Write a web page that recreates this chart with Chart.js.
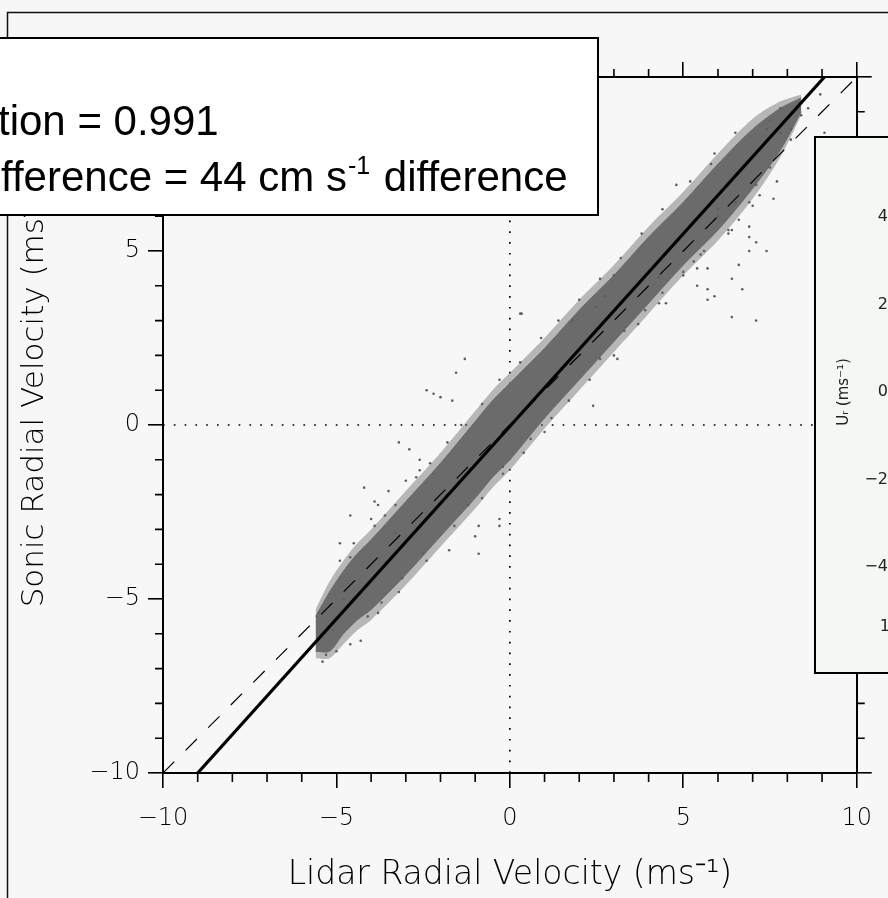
<!DOCTYPE html>
<html>
<head>
<meta charset="utf-8">
<script src="https://cdn.jsdelivr.net/npm/chart.js@4.4.1/dist/chart.umd.min.js"></script>
<style>
  html, body { margin:0; padding:0; background:#f7f7f7; overflow:hidden; }
  #wrap { position:relative; width:888px; height:898px; overflow:hidden; }
  #main { position:absolute; left:0; top:0; }
  #insetBox { position:absolute; left:813px; top:136px; width:75px; height:538px; overflow:hidden; }
  #inset { position:absolute; left:0; top:0; }
</style>
</head>
<body>
<div id="wrap">
  <canvas id="main" width="888" height="898"></canvas>
  <div id="insetBox"><canvas id="inset" width="220" height="538"></canvas></div>
</div>
<script>
// ---------------- data ----------------
const xTicks = [-10, -5, 0, 5, 10];
const yTicks = [-10, -5, 0, 5, 10];
const minorTicks = [-9,-8,-7,-6,-4,-3,-2,-1,1,2,3,4,6,7,8,9];

// dense core of the scatter cloud: lidar velocity and sonic upper/lower edges
const bandX     = [-5.6, -5.2, -4.8, -4.4, -4.0, -3.0, -2.0, -1.0, -0.5, 0.0, 0.5, 1.0, 2.0, 3.0, 4.0, 5.0, 6.0, 7.0, 7.8, 8.4];
const bandUpper = [-5.5, -4.8, -4.2, -3.7, -3.3, -2.2, -1.1,  0.1,  0.7, 1.2, 1.7, 2.2, 3.3, 4.3, 5.4, 6.4, 7.5, 8.5, 9.1, 9.4];
const bandLower = [-6.5, -6.5, -6.0, -5.6, -5.3, -4.3, -3.2, -2.1, -1.5,-1.0,-0.4, 0.2, 1.3, 2.4, 3.5, 4.6, 5.6, 6.8, 7.9, 9.0];
// sparser outer fringe of the cloud
const haloUpper = [-5.3, -4.5, -3.9, -3.4, -3.0, -1.9, -0.8,  0.4,  1.0, 1.5, 2.0, 2.5, 3.6, 4.6, 5.7, 6.7, 7.8, 8.8, 9.3, 9.5];
const haloLower = [-6.7, -6.7, -6.3, -5.9, -5.6, -4.6, -3.5, -2.4, -1.8,-1.3,-0.7,-0.1, 1.0, 2.1, 3.2, 4.3, 5.3, 6.5, 7.7, 8.9];

// scattered individual points (lidar, sonic)
const scatterX = [-5.3,-5.1,-5.5,-4.8,-4.3,-4.9,-4.5,-4.0,-3.8,-3.5,-3.0,-2.6,
  -2.4,-2.2,-2.0,-1.66,-1.3,-1.55,0.3,2.4,
  -3.2,-2.9,-2.6,-2.2,-4.2,-3.9,-3.6,-3.3,-4.9,-4.6,
  -0.9,-0.3,-1.0,-0.9,-0.3,-1.75,
  7.1,5.7,6.6,7.1,6.0,6.4,5.3,5.4,6.7,7.4,7.6,7.0,7.1,3.1,
  4.8,5.8,5.7,5.9,6.4,6.9,6.9,6.0,6.5,6.6,6.9,6.4,0.34,3.0,2.75,2.5,1.8,4.5,4.3,5.4,5.7,
  8.95,9.07,8.6,7.8,8.4,8.1,8.1,7.5,7.8,7.4,
  -4.6,-3.9,-3.3,-2.7,-2.3,-1.8,-1.4,-0.8,-0.3,0.3,0.9,1.4,2.0,2.6,3.2,3.8,4.4,5.2,5.9,6.5,
  -5.4,-4.6,-3.8,-3.2,-2.4,-1.6,-0.8,-0.2,0.4,1.0,1.7,2.3,3.0,3.7,4.3,5.0,5.6,6.3,6.9,7.5,
  -5.0,-4.1,-3.7,-3.1,-2.5,-1.2,-0.2,0.6,1.2,2.6,3.3,3.9,4.4,5.0,5.5,6.3,7.2,7.7];
const scatterY = [-6.6,-5.9,-5.4,-5.0,-6.2,-3.9,-3.4,-2.7,-2.3,-1.9,-1.6,-1.3,
  1.0,0.9,0.8,0.7,1.9,1.5,3.2,0.55,
  -0.5,-0.7,-1.0,-1.4,-1.8,-2.2,-2.6,-3.1,-3.4,-2.6,
  -2.9,-2.9,-3.2,-3.7,-2.7,-3.6,
  3.0,3.6,4.6,5.25,6.0,5.6,4.7,4.0,3.9,5.0,6.5,6.3,6.9,1.9,
  6.9,7.5,4.5,3.7,4.2,5.0,5.4,6.2,6.4,5.9,5.7,3.1,3.2,4.3,3.7,3.4,3.0,3.5,4.25,4.5,3.9,
  9.5,8.4,9.1,9.1,8.9,8.5,8.2,8.75,8.4,8.5,
  -3.8,-2.9,-2.3,-1.5,-1.1,-0.5,0.0,0.6,1.3,1.8,2.5,3.0,3.6,4.2,4.8,5.5,6.2,7.0,7.8,8.4,
  -6.8,-6.3,-5.4,-4.8,-3.9,-2.9,-2.1,-1.4,-0.8,-0.2,0.7,1.3,2.0,2.9,3.5,4.3,5.0,5.6,6.4,7.4,
  -6.5,-5.5,-5.1,-4.4,-3.7,-2.3,-1.2,-0.4,0.2,1.9,2.7,3.3,3.8,4.4,4.9,5.5,6.6,7.0];

// fitted regression line end points and the 1:1 reference line
const fitX = [-9.0, 9.07];
const fitY = [-10, 10];
const oneToOneX = [-10, 10];
const oneToOneY = [-10, 10];

// inset (partly visible panel) tick labels
const insetTicks = [4, 2, 0, -2, -4];

// text
const xTitle = 'Lidar Radial Velocity (ms\u207B\u00B9)';
const yTitle = '\u00A0'.repeat(6) + 'Sonic Radial Velocity (ms\u207B\u00B9)';
const statLine1 = ['Correla', 'tion = 0.991'];
const statLine2 = ['Mean di', 'fference = 44 cm s', '-1', ' difference'];
const insetTitle = 'U\u1D63 (ms\u207B\u00B9)';
const insetExtra = '1.';

// ---------------- helpers ----------------
const pts = (xs, ys) => xs.map((x, i) => ({ x, y: ys[i] }));
const fmt = v => (v < 0 ? '\u2212' + Math.abs(v) : String(v));
const IDL = "'DejaVu Sans', sans-serif";

const axisGrid = { drawOnChartArea:false, drawTicks:true, tickLength:15, color:'#000', tickColor:'#000', tickWidth:1.6, lineWidth:1.6 };
const axisBorder = { display:true, color:'#000', width:2 };

const framePlugin = {
  id:'frame',
  beforeDraw(chart) {
    const c = chart.ctx;
    c.save();
    c.fillStyle = '#f7f7f7';
    c.fillRect(0, 0, chart.width, chart.height);
    c.strokeStyle = '#111';
    c.lineWidth = 1.5;
    c.beginPath();
    c.moveTo(7.5, 900); c.lineTo(7.5, 12.5); c.lineTo(900, 12.5);
    c.stroke();
    c.restore();
  },
  afterDraw(chart) {
    const c = chart.ctx;
    const sx = chart.scales.x;
    const sy = chart.scales.y;
    const a = chart.chartArea;
    c.save();
    c.strokeStyle = '#000';
    c.lineWidth = 1.6;
    c.beginPath();
    minorTicks.forEach(v => {
      const px = sx.getPixelForValue(v);
      c.moveTo(px, a.bottom); c.lineTo(px, a.bottom + 9);
      c.moveTo(px, a.top); c.lineTo(px, a.top - 8);
      const py = sy.getPixelForValue(v);
      c.moveTo(a.left, py); c.lineTo(a.left - 8, py);
      c.moveTo(a.right, py); c.lineTo(a.right + 8, py);
    });
    c.stroke();

    // statistics text box
    c.fillStyle = '#ffffff';
    c.fillRect(-2, 38, 600, 177);
    c.strokeStyle = '#000';
    c.lineWidth = 2;
    c.strokeRect(-2, 38, 600, 177);
    c.fillStyle = '#000';
    c.textBaseline = 'alphabetic';
    c.textAlign = 'left';
    const big = "42px 'Liberation Sans', Arial, sans-serif";
    const small = "25px 'Liberation Sans', Arial, sans-serif";
    c.font = big;
    let x1 = -2 - c.measureText(statLine1[0]).width;
    c.fillText(statLine1.join(''), x1, 135);
    let x2 = 1 - c.measureText(statLine2[0]).width;
    const part1 = statLine2[0] + statLine2[1];
    c.fillText(part1, x2, 191);
    x2 += c.measureText(part1).width;
    c.font = small;
    c.fillText(statLine2[2], x2 + 1, 174);
    x2 += c.measureText(statLine2[2]).width + 3;
    c.font = big;
    c.fillText(statLine2[3], x2, 191);
    c.restore();
  }
};

new Chart(document.getElementById('main'), {
  type:'scatter',
  data:{ datasets:[
    { type:'line', label:'fit', data: pts(fitX, fitY), borderColor:'#000', borderWidth:3.2, pointRadius:0, order:0 },
    { type:'line', label:'1:1', data: pts(oneToOneX, oneToOneY), borderColor:'#000', borderWidth:1.2, borderDash:[16,16], pointRadius:0, order:1 },
    { type:'scatter', label:'points', data: pts(scatterX, scatterY), backgroundColor:'#5e5e5e', borderWidth:0, pointRadius:1.3, order:2 },
    { type:'line', label:'upper', data: pts(bandX, bandUpper), borderColor:'#6b6b6b', borderWidth:1, pointRadius:0, tension:0.3, fill:'+1', backgroundColor:'#6b6b6b', order:3 },
    { type:'line', label:'lower', data: pts(bandX, bandLower), borderColor:'#6b6b6b', borderWidth:1, pointRadius:0, tension:0.3, fill:false, order:4 },
    { type:'line', label:'haloUpper', data: pts(bandX, haloUpper), borderColor:'rgba(110,110,110,0)', borderWidth:0, pointRadius:0, tension:0.3, fill:'+1', backgroundColor:'rgba(105,105,105,0.45)', order:5 },
    { type:'line', label:'haloLower', data: pts(bandX, haloLower), borderColor:'rgba(110,110,110,0)', borderWidth:0, pointRadius:0, tension:0.3, fill:false, order:6 },
    { type:'line', label:'x0', data: pts([0,0],[-10,10]), borderColor:'#000', borderWidth:1.7, borderDash:[1.7,9.1], pointRadius:0, order:7 },
    { type:'line', label:'y0', data: pts([-10,10],[0,0]), borderColor:'#000', borderWidth:1.7, borderDash:[1.7,9.1], pointRadius:0, order:7 }
  ]},
  options:{
    responsive:false, animation:false, devicePixelRatio:1,
    layout:{ padding:0 },
    plugins:{ legend:{display:false}, tooltip:{enabled:false} },
    scales:{
      x:{ type:'linear', position:'bottom', min:-10, max:10,
        afterBuildTicks: s => { s.ticks = xTicks.map(v => ({value:v})); },
        ticks:{ callback: fmt, font:{family:IDL, size:24, weight:'200'}, color:'#000', padding:16, maxRotation:0, autoSkip:false },
        grid: axisGrid, border: axisBorder,
        title:{ display:true, text:xTitle, font:{family:IDL, size:33, weight:'200'}, color:'#000', padding:{top:0, bottom:3} },
        afterFit: s => { s.height = 125; } },
      x2:{ type:'linear', position:'top', min:-10, max:10,
        afterBuildTicks: s => { s.ticks = xTicks.map(v => ({value:v})); },
        ticks:{ display:false }, grid: axisGrid, border: axisBorder,
        afterFit: s => { s.height = 77; } },
      y:{ type:'linear', position:'left', min:-10, max:10,
        afterBuildTicks: s => { s.ticks = yTicks.map(v => ({value:v})); },
        ticks:{ callback: fmt, font:{family:IDL, size:24, weight:'200'}, color:'#000', padding:8 },
        grid: axisGrid, border: axisBorder,
        title:{ display:true, text:yTitle, font:{family:IDL, size:31, weight:'200'}, color:'#000', padding:{top:16, bottom:0} },
        afterFit: s => { s.width = 163; } },
      y2:{ type:'linear', position:'right', min:-10, max:10,
        afterBuildTicks: s => { s.ticks = yTicks.map(v => ({value:v})); },
        ticks:{ display:false }, grid: axisGrid, border: axisBorder,
        afterFit: s => { s.width = 28; } }
    }
  },
  plugins:[framePlugin]
});

// ---------------- inset panel (only its left strip is visible) ----------------
const insetPlugin = {
  id:'insetFrame',
  beforeDraw(chart) {
    const c = chart.ctx;
    c.save();
    c.fillStyle = '#f3f8f2';
    c.fillRect(0, 0, chart.width, chart.height);
    c.restore();
  },
  afterDraw(chart) {
    const c = chart.ctx;
    c.save();
    c.strokeStyle = '#000';
    c.lineWidth = 2;
    c.strokeRect(2, 1, chart.width + 10, chart.height - 2);
    c.fillStyle = '#222';
    c.font = "16px " + IDL;
    c.textAlign = 'right';
    c.textBaseline = 'middle';
    c.fillText(insetExtra, 82, 491);
    c.restore();
  }
};

new Chart(document.getElementById('inset'), {
  type:'scatter',
  data:{ datasets:[{ data:[], pointRadius:0 }] },
  options:{
    responsive:false, animation:false, devicePixelRatio:1,
    layout:{ padding:{ top:0, bottom:26, left:0, right:0 } },
    plugins:{ legend:{display:false}, tooltip:{enabled:false} },
    scales:{
      x:{ display:false, min:0, max:1 },
      y:{ type:'linear', position:'left', min:-5.85, max:5.85,
        afterBuildTicks: s => { s.ticks = insetTicks.map(v => ({value:v})); },
        ticks:{ callback: fmt, font:{family:IDL, size:16}, color:'#222', padding:9 },
        grid:{ display:false, drawTicks:false },
        border:{ display:false },
        title:{ display:true, text:insetTitle, font:{family:IDL, size:15}, color:'#222', padding:{top:22, bottom:0} },
        afterFit: s => { s.width = 84; s.paddingTop = 0; s.paddingBottom = 0; } }
    }
  },
  plugins:[insetPlugin]
});
</script>
</body>
</html>
